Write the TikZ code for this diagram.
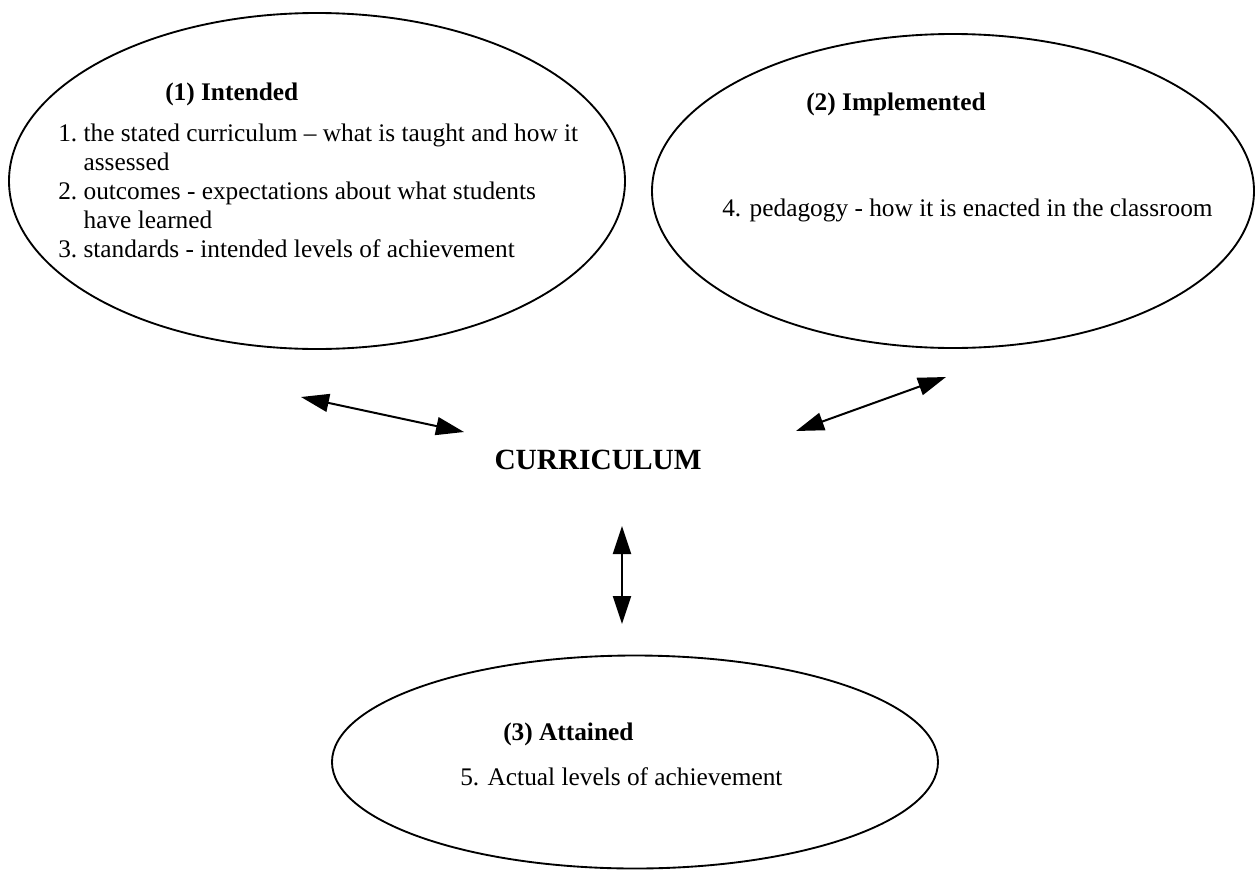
\documentclass[tikz,border=0pt]{standalone}
\usepackage{fontspec}
\setmainfont{Liberation Serif}
\usetikzlibrary{arrows.meta,%
		shapes.geometric,%
		positioning}

\begin{document}
\begin{tikzpicture}[x=0.75pt,y=-0.75pt,
  bubble/.style={ellipse,draw,line width=1.4pt,inner sep=0pt},
  heading/.style={font=\fontsize{19}{21.9}\selectfont\bfseries,inner sep=0pt,anchor=base west},
  entry/.style={font=\fontsize{19}{21.9}\selectfont,inner sep=0pt,anchor=base west},
  link/.style={line width=1.5pt,{Triangle[length=21pt,width=13.5pt]}-{Triangle[length=21pt,width=13.5pt]}}]

  \useasboundingbox (0,0) rectangle (1257,871);

  \node[bubble,minimum width=462pt,minimum height=252pt] (intended) at (317,181) {};%ellisse (1)
  \node[bubble,minimum width=451.5pt,minimum height=235.5pt] (implemented) at (953,191) {};%ellisse (2)
  \node[bubble,minimum width=454.5pt,minimum height=159.75pt] (attained) at (635,762) {};%ellisse (3)

  \node[heading] (intendedtitle) at (165,100) {(1) Intended};
  \node[entry] (intendedlist) at (58,141) {\begin{tabular}[t]{@{}l@{\ }l@{}}
    1.&the stated curriculum -- what is taught and how it\\
      &assessed\\
    2.&outcomes - expectations about what students\\
      &have learned\\
    3.&standards - intended levels of achievement
  \end{tabular}};

  \node[heading] (implementedtitle) at (806,110) {(2) Implemented};
  \node[entry] (pedagogy) at (722,216) {4. pedagogy - how it is enacted in the classroom};

  \node[heading] (attainedtitle) at (503,740) {(3) Attained};
  \node[entry] (actual) at (460,785) {5. Actual levels of achievement};

  \node[font=\fontsize{22}{26}\selectfont\bfseries,inner sep=0pt] (curriculum) at (598,460) {CURRICULUM};

  \coordinate (la) at (301,397);%freccia sinistra
  \coordinate (lb) at (464,432);
  \coordinate (ra) at (946,377);%freccia destra
  \coordinate (rb) at (796,431);
  \coordinate (da) at (622,526);%freccia verticale
  \coordinate (db) at (622,624);
  \draw[link] (la) -- (lb);
  \draw[link] (ra) -- (rb);
  \draw[link] (da) -- (db);
\end{tikzpicture}
\end{document}
